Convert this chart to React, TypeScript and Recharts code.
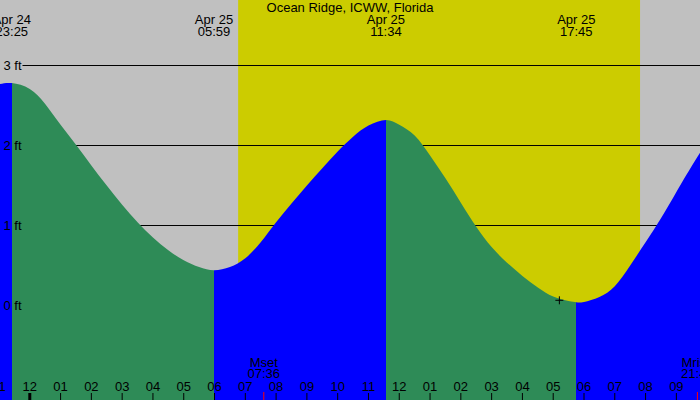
import React from 'react';
import {
  ComposedChart,
  Area,
  XAxis,
  YAxis,
  ReferenceArea,
  ReferenceLine,
  ReferenceDot,
} from 'recharts';

// ---------- data (hours relative to 00:00 Apr 25, tide in ft) ----------
const TITLE = 'Ocean Ridge, ICWW, Florida';

const HOURS = [
  -1, -0.583, 0, 0.5, 1, 1.5, 2, 2.5, 3, 3.5, 4, 4.5, 5, 5.5, 5.983,
  6.5, 7, 7.5, 8, 8.5, 9, 9.5, 10, 10.5, 11, 11.567,
  12, 12.5, 13, 13.5, 14, 14.5, 15, 15.5, 16, 16.5, 17, 17.5, 17.75,
  18, 18.5, 19, 19.5, 20, 20.5, 21, 21.5, 21.8,
];
const LEVELS_FT = [
  2.765, 2.78, 2.706, 2.52, 2.26, 2.01, 1.75, 1.5, 1.26, 1.04, 0.85, 0.69, 0.565, 0.48, 0.44,
  0.48, 0.59, 0.79, 1.04, 1.275, 1.5, 1.715, 1.925, 2.11, 2.25, 2.319,
  2.26, 2.125, 1.875, 1.59, 1.285, 0.985, 0.73, 0.535, 0.37, 0.225, 0.111, 0.056, 0.04,
  0.044, 0.106, 0.24, 0.5, 0.79, 1.09, 1.42, 1.745, 1.93,
];

const EXTREME_TIMES = [-0.5833, 5.9833, 11.5667, 17.75];
const EXTREME_DATES = ['Apr 24', 'Apr 25', 'Apr 25', 'Apr 25'];
const EXTREME_CLOCK = ['23:25', '05:59', '11:34', '17:45'];
const EXTREME_KIND = ['high', 'low', 'high', 'low'];

const SUNRISE = 6.767;
const SUNSET = 19.82;

const MOON_TIMES = [7.6, 21.683];
const MOON_NAMES = ['Mset', 'Mrise'];
const MOON_CLOCK = ['07:36', '21:41'];

const HOUR_TICKS = [-1, 0, 1, 2, 3, 4, 5, 6, 7, 8, 9, 10, 11, 12, 13, 14, 15, 16, 17, 18, 19, 20, 21];
const FOOT_TICKS = [0, 1, 2, 3];

const NOW_TIME = 17.2;
const NOW_LEVEL = 0.065;

const X_DOMAIN: [number, number] = [-1, 21.8];
const Y_MIN = -1.18125;
const Y_DOMAIN: [number, number] = [Y_MIN, Y_MIN + 5];

// ---------- styles ----------
const FONT = '"Liberation Sans", Arial, Helvetica, sans-serif';
const GRAY = '#C0C0C0';
const SUN = '#CCCC00';
const FALLING = '#2E8B57';
const RISING = '#0000FF';
const AXIS_THICK = 1; // thickness given to the (mirrored) axes
const LEVEL_LINE_START = -0.237; // level lines begin just right of their labels

const rows = HOURS.map((t, i) => ({ t, level: LEVELS_FT[i] }));

const T0 = HOURS[0];
const T1 = HOURS[HOURS.length - 1];
const frac = (t: number) => (t - T0) / (T1 - T0);

const hourLabel = (h: number) => {
  const m = ((h % 12) + 12) % 12;
  return m === 0 ? '12' : String(m).padStart(2, '0');
};

function HourTick(props: any) {
  const { x, y, payload } = props;
  const b = y + AXIS_THICK;
  const h = payload.value as number;
  const midnight = ((h % 24) + 24) % 24 === 0;
  return (
    <g>
      <line x1={x} x2={x} y1={b - 8} y2={b} stroke="#000" strokeWidth={midnight ? 3 : 1} />
      <text x={x} y={b - 10.5} textAnchor="middle" fontSize={13} fontFamily={FONT} fill="#000">
        {hourLabel(h)}
      </text>
    </g>
  );
}

function ExtremeTick(props: any) {
  const { x, y, index } = props;
  return (
    <g>
      <text x={x} y={y + 24} textAnchor="middle" fontSize={13} fontFamily={FONT} fill="#000">
        {EXTREME_DATES[index]}
      </text>
      <text x={x} y={y + 36} textAnchor="middle" fontSize={13} fontFamily={FONT} fill="#000">
        {EXTREME_CLOCK[index]}
      </text>
    </g>
  );
}

function MoonTick(props: any) {
  const { x, y, index } = props;
  const b = y + AXIS_THICK;
  return (
    <g>
      <line x1={x} x2={x} y1={b - 8} y2={b} stroke="#FF0000" strokeWidth={1} />
      <text x={x} y={b - 33.5} textAnchor="middle" fontSize={13} fontFamily={FONT} fill="#000">
        {MOON_NAMES[index]}
      </text>
      <text x={x} y={b - 22} textAnchor="middle" fontSize={13} fontFamily={FONT} fill="#000">
        {MOON_CLOCK[index]}
      </text>
    </g>
  );
}

function FootTick(props: any) {
  const { x, y, payload } = props;
  return (
    <text x={x + 4.5} y={y + 4.5} textAnchor="start" fontSize={13} fontFamily={FONT} fill="#000">
      {`${payload.value} ft`}
    </text>
  );
}

function NowMark(props: any) {
  const { cx, cy } = props;
  return (
    <g>
      <line x1={cx - 4} x2={cx + 4} y1={cy} y2={cy} stroke="#000" strokeWidth={1} />
      <line x1={cx} x2={cx} y1={cy - 4} y2={cy + 4} stroke="#000" strokeWidth={1} />
    </g>
  );
}

const axisCommon = {
  dataKey: 't',
  type: 'number' as const,
  domain: X_DOMAIN,
  interval: 0 as const,
  height: AXIS_THICK,
  tickSize: 0,
  tickMargin: 0,
  axisLine: false,
  tickLine: false,
  mirror: true,
  allowDataOverflow: true,
};

export default function App() {
  // colour stops switch between rising (blue) and falling (green) at each extreme
  const stops: { offset: number; color: string }[] = [];
  let current = EXTREME_KIND[0] === 'high' ? RISING : FALLING;
  stops.push({ offset: 0, color: current });
  EXTREME_TIMES.forEach((t, i) => {
    const next = EXTREME_KIND[i] === 'high' ? FALLING : RISING;
    stops.push({ offset: frac(t), color: current });
    stops.push({ offset: frac(t), color: next });
    current = next;
  });
  stops.push({ offset: 1, color: current });

  return (
    <div
      style={{
        position: 'absolute',
        left: 0,
        top: 0,
        width: 700,
        height: 400,
        overflow: 'hidden',
        background: GRAY,
      }}
    >
      <div style={{ position: 'absolute', left: -1.5, top: 0 }}>
        <ComposedChart
          width={702}
          height={400}
          data={rows}
          margin={{ top: 0, right: 0, bottom: 0, left: 0 }}
        >
          <defs>
            <linearGradient id="tideFill" x1="0" y1="0" x2="1" y2="0">
              {stops.map((s, i) => (
                <stop key={i} offset={s.offset} stopColor={s.color} stopOpacity={1} />
              ))}
            </linearGradient>
          </defs>
          <XAxis {...axisCommon} ticks={HOUR_TICKS} tick={HourTick} />
          <XAxis {...axisCommon} xAxisId="moon" ticks={MOON_TIMES} tick={MoonTick} />
          <XAxis {...axisCommon} xAxisId="ext" orientation="top" ticks={EXTREME_TIMES} tick={ExtremeTick} />
          <YAxis
            type="number"
            domain={Y_DOMAIN}
            ticks={FOOT_TICKS}
            interval={0}
            width={AXIS_THICK}
            mirror
            tickSize={0}
            tickMargin={0}
            axisLine={false}
            tickLine={false}
            tick={FootTick}
            allowDataOverflow
          />
          <ReferenceArea
            x1={SUNRISE}
            x2={SUNSET}
            fill={SUN}
            fillOpacity={1}
            stroke="none"
            ifOverflow="hidden"
            zIndex={1}
          />
          {FOOT_TICKS.map((v) => (
            <ReferenceLine
              key={v}
              segment={[
                { x: LEVEL_LINE_START, y: v },
                { x: X_DOMAIN[1], y: v },
              ]}
              stroke="#000"
              strokeWidth={1}
              zIndex={2}
            />
          ))}
          <Area
            dataKey="level"
            type="natural"
            stroke="none"
            fill="url(#tideFill)"
            fillOpacity={1}
            baseValue={Y_MIN}
            isAnimationActive={false}
            activeDot={false}
            dot={false}
            zIndex={3}
          />
          <ReferenceDot
            x={NOW_TIME}
            y={NOW_LEVEL}
            r={4}
            shape={NowMark}
            zIndex={600}
          />
        </ComposedChart>
      </div>
      <svg
        width={700}
        height={20}
        style={{ position: 'absolute', left: 0, top: 0, pointerEvents: 'none' }}
      >
        <text x={350} y={12} textAnchor="middle" fontSize={13} fontFamily={FONT} fill="#000">
          {TITLE}
        </text>
      </svg>
    </div>
  );
}
